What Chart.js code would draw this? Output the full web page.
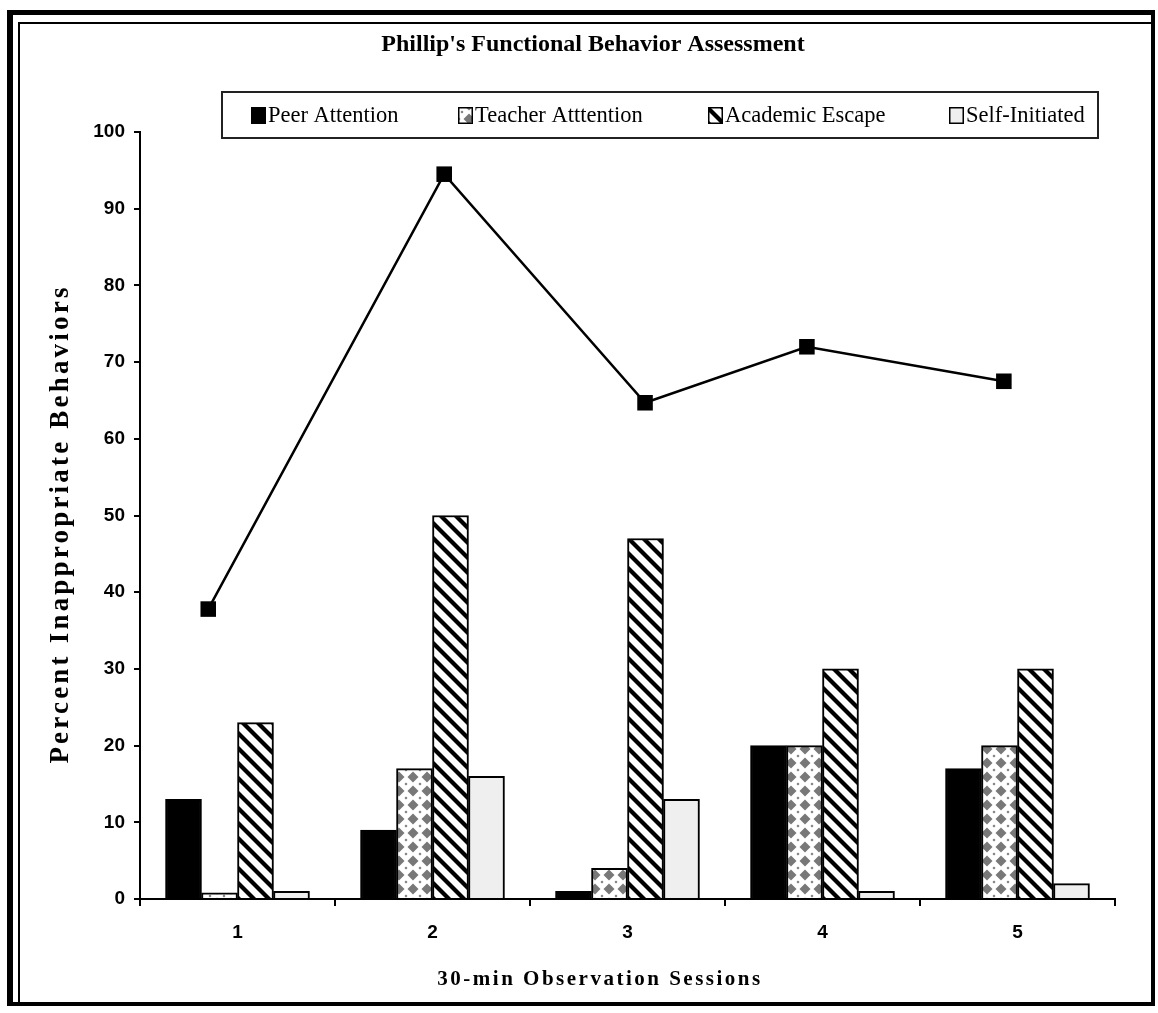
<!DOCTYPE html>
<html>
<head>
<meta charset="utf-8">
<title>Phillip's Functional Behavior Assessment</title>
<script src="https://cdn.jsdelivr.net/npm/chart.js@4.4.0/dist/chart.umd.min.js"></script>
<style>
  html, body { margin: 0; padding: 0; background: #fff; }
  #page { position: relative; width: 1158px; height: 1013px; overflow: hidden; background: #fff; }
  #frameOuter { position: absolute; left: 7px; top: 10px; width: 1138px; height: 987px;
    border-top: 5px solid #000; border-left: 6px solid #000; border-right: 4px solid #000; border-bottom: 4px solid #000; }
  #frameInner { position: absolute; left: 18px; top: 22px; width: 1133px; height: 981px;
    border-top: 2px solid #000; border-left: 2px solid #000; }
  #chart { position: absolute; left: 0; top: 0; }
</style>
</head>
<body>
<div id="page">
  <div id="frameOuter"></div>
  <div id="frameInner"></div>
  <canvas id="chart" width="1158" height="1013"></canvas>
</div>
<script>
// Observation sessions and percent of intervals per function
const sessions = [1, 2, 3, 4, 5];
const sessionLabels = ['1', '2', '3', '4', '5'];
const peerAttention = [13, 9, 1, 20, 17];
const teacherAttention = [0.8, 17, 4, 20, 20];
const academicEscape = [23, 50, 47, 30, 30];
const selfInitiated = [1, 16, 13, 1, 2];

// Overall percent of inappropriate behavior per session (line with square markers)
const totalSessionPos = [0.85, 2.06, 3.09, 3.92, 4.93];
const totalPercent = [37.8, 94.5, 64.7, 72.0, 67.5];

const seriesNames = ['Peer Attention', 'Teacher Atttention', 'Academic Escape', 'Self-Initiated'];
const yTickValues = [0, 10, 20, 30, 40, 50, 60, 70, 80, 90, 100];
// session boundaries (tick marks) and session centres (labels)
const xTickValues = [0.5, 1, 1.5, 2, 2.5, 3, 3.5, 4, 4.5, 5, 5.5];

const titleText = "Phillip's Functional Behavior Assessment";
const xTitleText = '30-min Observation Sessions';
const yTitleText = 'Percent Inappropriate Behaviors';

const SERIF = "'Liberation Serif', 'Times New Roman', serif";
const SANS = "'Liberation Sans', Arial, sans-serif";

const canvas = document.getElementById('chart');
const ctx = canvas.getContext('2d');

// Gray diamond checker fill
function makeDiamondPattern() {
  const t = document.createElement('canvas');
  t.width = 14; t.height = 14;
  const g = t.getContext('2d');
  g.fillStyle = '#ffffff';
  g.fillRect(0, 0, 14, 14);
  g.fillStyle = '#787878';
  g.beginPath();
  g.moveTo(7, 1.5); g.lineTo(12.5, 7); g.lineTo(7, 12.5); g.lineTo(1.5, 7);
  g.closePath(); g.fill();
  [[0, 0], [14, 0], [0, 14], [14, 14]].forEach(([cx, cy]) => {
    g.beginPath();
    g.moveTo(cx, cy - 1.5); g.lineTo(cx + 1.5, cy); g.lineTo(cx, cy + 1.5); g.lineTo(cx - 1.5, cy);
    g.closePath(); g.fill();
  });
  return ctx.createPattern(t, 'repeat');
}

// Black diagonal stripes running down to the right
function makeStripePattern() {
  const s = 15;
  const t = document.createElement('canvas');
  t.width = s; t.height = s;
  const g = t.getContext('2d');
  g.fillStyle = '#ffffff';
  g.fillRect(0, 0, s, s);
  g.strokeStyle = '#000000';
  g.lineWidth = 4.2;
  for (let k = -1; k <= 1; k++) {
    g.beginPath();
    g.moveTo(k * s - 3, -3);
    g.lineTo(k * s + s + 3, s + 3);
    g.stroke();
  }
  return ctx.createPattern(t, 'repeat');
}

const diamondFill = makeDiamondPattern();
const stripeFill = makeStripePattern();
const seriesFills = ['#000000', diamondFill, stripeFill, '#efefef'];

// Title, boxed legend and axis titles
const decorations = {
  id: 'decorations',
  afterDraw(chart) {
    const c = chart.ctx;
    c.save();
    c.fillStyle = '#000';
    c.textBaseline = 'middle';

    // chart title
    c.font = 'bold 24px ' + SERIF;
    c.textAlign = 'center';
    c.fillText(titleText, 593, 45);

    // legend box
    c.lineWidth = 2;
    c.strokeStyle = '#222';
    c.strokeRect(222, 92, 876, 46);
    const itemX = [251, 458, 708, 949];
    c.font = '22.5px ' + SERIF;
    c.textAlign = 'left';
    seriesNames.forEach((name, i) => {
      const x = itemX[i], y = 107;
      c.fillStyle = seriesFills[i];
      c.fillRect(x, y, 15, 17);
      c.lineWidth = 1.5;
      c.strokeStyle = '#000';
      c.strokeRect(x + 0.75, y + 0.75, 13.5, 15.5);
      c.fillStyle = '#000';
      c.fillText(name, x + 17, 116);
    });

    // x axis title
    c.font = 'bold 21px ' + SERIF;
    c.letterSpacing = '2.5px';
    c.textAlign = 'center';
    c.fillText(xTitleText, 600, 980);

    // y axis title
    c.translate(61, 524);
    c.rotate(-Math.PI / 2);
    c.font = 'bold 27px ' + SERIF;
    c.letterSpacing = '3.2px';
    c.fillText(yTitleText, 0, 0);
    c.restore();
  }
};

const isSessionCentre = (v) => typeof v === 'number' && Number.isInteger(v);

// four grouped bars per session, one per function
const barSeries = [peerAttention, teacherAttention, academicEscape, selfInitiated].map((values, i) => ({
  label: seriesNames[i],
  data: values.map((v, j) => ({ x: sessions[j], y: v })),
  backgroundColor: seriesFills[i],
  borderColor: '#000',
  borderWidth: 2,
  order: 1
}));

new Chart(ctx, {
  type: 'bar',
  data: {
    datasets: [
      ...barSeries,
      {
        type: 'line',
        label: 'Total',
        data: totalSessionPos.map((x, i) => ({ x: x, y: totalPercent[i] })),
        borderColor: '#000',
        borderWidth: 2.5,
        pointStyle: 'rect',
        pointRadius: 11,
        pointBackgroundColor: '#000',
        pointBorderColor: '#000',
        pointBorderWidth: 0,
        tension: 0,
        fill: false,
        order: 0
      }
    ]
  },
  options: {
    responsive: false,
    animation: false,
    devicePixelRatio: 1,
    events: [],
    layout: { padding: { left: 80, right: 43, top: 132, bottom: 64 } },
    datasets: { bar: { barThickness: 36, maxBarThickness: 36 } },
    plugins: {
      legend: { display: false },
      title: { display: false },
      tooltip: { enabled: false }
    },
    scales: {
      x: {
        type: 'linear',
        min: 0.5,
        max: 5.5,
        offset: false,
        afterBuildTicks(scale) { scale.ticks = xTickValues.map(v => ({ value: v })); },
        grid: {
          display: true, drawOnChartArea: false, drawTicks: true, tickLength: 7, lineWidth: 2,
          offset: false,
          color: '#000',
          tickColor: (c) => ((c && c.tick && isSessionCentre(c.tick.value)) ? 'rgba(0,0,0,0)' : '#000')
        },
        border: { display: true, color: '#000', width: 2 },
        ticks: {
          color: '#000', font: { family: SANS, size: 19, weight: 'bold' }, padding: 15,
          maxRotation: 0, autoSkip: false,
          callback: (v) => (isSessionCentre(v) ? sessionLabels[sessions.indexOf(v)] : '')
        },
        afterFit(scale) { scale.height = 50; }
      },
      y: {
        min: 0,
        max: 100,
        afterBuildTicks(scale) { scale.ticks = yTickValues.map(v => ({ value: v })); },
        grid: { display: true, drawOnChartArea: false, drawTicks: true, tickLength: 6, color: '#000', lineWidth: 2 },
        border: { display: true, color: '#000', width: 2 },
        ticks: { color: '#000', font: { family: SANS, size: 19, weight: 'bold' }, padding: 9 },
        afterFit(scale) { scale.width = 60; }
      }
    }
  },
  plugins: [decorations]
});
</script>
</body>
</html>
